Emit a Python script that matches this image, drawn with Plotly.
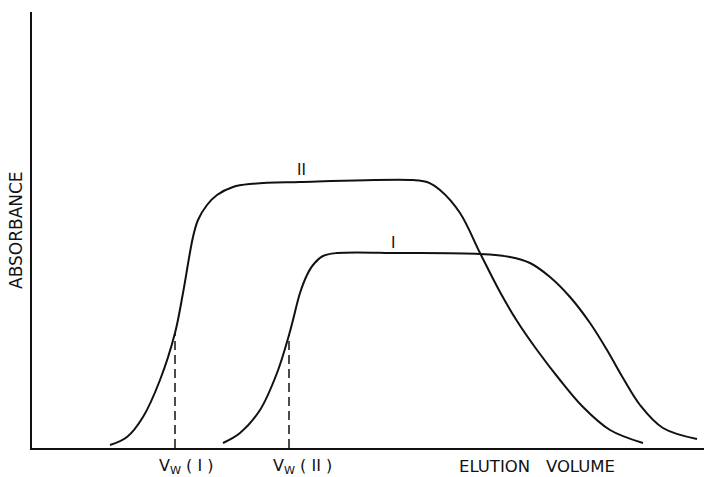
import plotly.graph_objects as go

# Frontal elution profiles (arbitrary units: elution volume vs absorbance)
vol_II = [78, 95, 111, 128, 143, 151, 161, 166, 175, 185, 201, 218, 268, 381,
          395, 408, 428, 448, 468, 485, 505, 528, 551, 578, 611]
abs_II = [3, 11, 31, 68, 115, 155, 211, 228, 243, 253, 261, 264, 266, 268,
          266, 258, 235, 195, 156, 127, 98, 68, 41, 18, 5]

vol_I = [191, 208, 228, 245, 257, 261, 268, 275, 281, 291, 305, 368, 448, 478,
         498, 518, 538, 558, 575, 591, 608, 631, 665]
abs_I = [5, 15, 38, 75, 113, 128, 155, 173, 183, 192, 195, 195, 194, 191,
         185, 171, 151, 125, 98, 70, 43, 20, 9]

# Retention volumes marked on the rising fronts
vw_pos = [143, 257]
vw_height = [115, 113]
vw_labels = ["V<sub>W</sub> ( I )", "V<sub>W</sub> ( II )"]
curve_labels = ["II", "I"]
curve_label_pos = [(269, 279), (361, 206)]

X_SPAN, Y_SPAN = 672, 436
ink = "#111111"
font = "DejaVu Sans"

fig = go.Figure()
for xs, ys in [(vol_II, abs_II), (vol_I, abs_I)]:
    fig.add_trace(go.Scatter(x=xs, y=ys, mode="lines",
                             line=dict(color=ink, width=2, shape="spline", smoothing=1.0),
                             hoverinfo="skip", showlegend=False))

for x, h in zip(vw_pos, vw_height):
    fig.add_shape(type="line", x0=x, x1=x, y0=0, y1=h, xref="x", yref="y",
                  line=dict(color=ink, width=1.5, dash="9px,5px"))

below = -18 / Y_SPAN
for x, txt in zip(vw_pos, vw_labels):
    fig.add_annotation(x=(x - 18) / X_SPAN, y=below, xref="paper", yref="paper",
                       text=txt, showarrow=False, xanchor="left", yanchor="middle",
                       font=dict(family=font, size=16, color=ink))

for txt, (x, y) in zip(curve_labels, curve_label_pos):
    fig.add_annotation(x=x, y=y, xref="x", yref="y", text=txt, showarrow=False,
                       xanchor="center", yanchor="middle",
                       font=dict(family="Liberation Sans", size=16, color=ink))

fig.add_annotation(x=425 / X_SPAN, y=below, xref="paper", yref="paper",
                   text="ELUTION\u00a0\u00a0\u00a0VOLUME", showarrow=False,
                   xanchor="left", yanchor="middle",
                   font=dict(family=font, size=16.5, color=ink))
fig.add_annotation(x=-16 / X_SPAN, y=218 / Y_SPAN, xref="paper", yref="paper",
                   text="ABSORBANCE", textangle=-90, showarrow=False,
                   xanchor="center", yanchor="middle",
                   font=dict(family=font, size=17, color=ink))

axis_common = dict(showgrid=False, zeroline=False, showticklabels=False, ticks="",
                   showline=True, linecolor=ink, linewidth=2)
fig.update_xaxes(range=[0, X_SPAN], **axis_common)
fig.update_yaxes(range=[0, Y_SPAN], **axis_common)

fig.update_layout(width=704, height=477, margin=dict(l=32, r=0, t=12, b=29),
                  paper_bgcolor="white", plot_bgcolor="white")

fig.write_html("out.html")
